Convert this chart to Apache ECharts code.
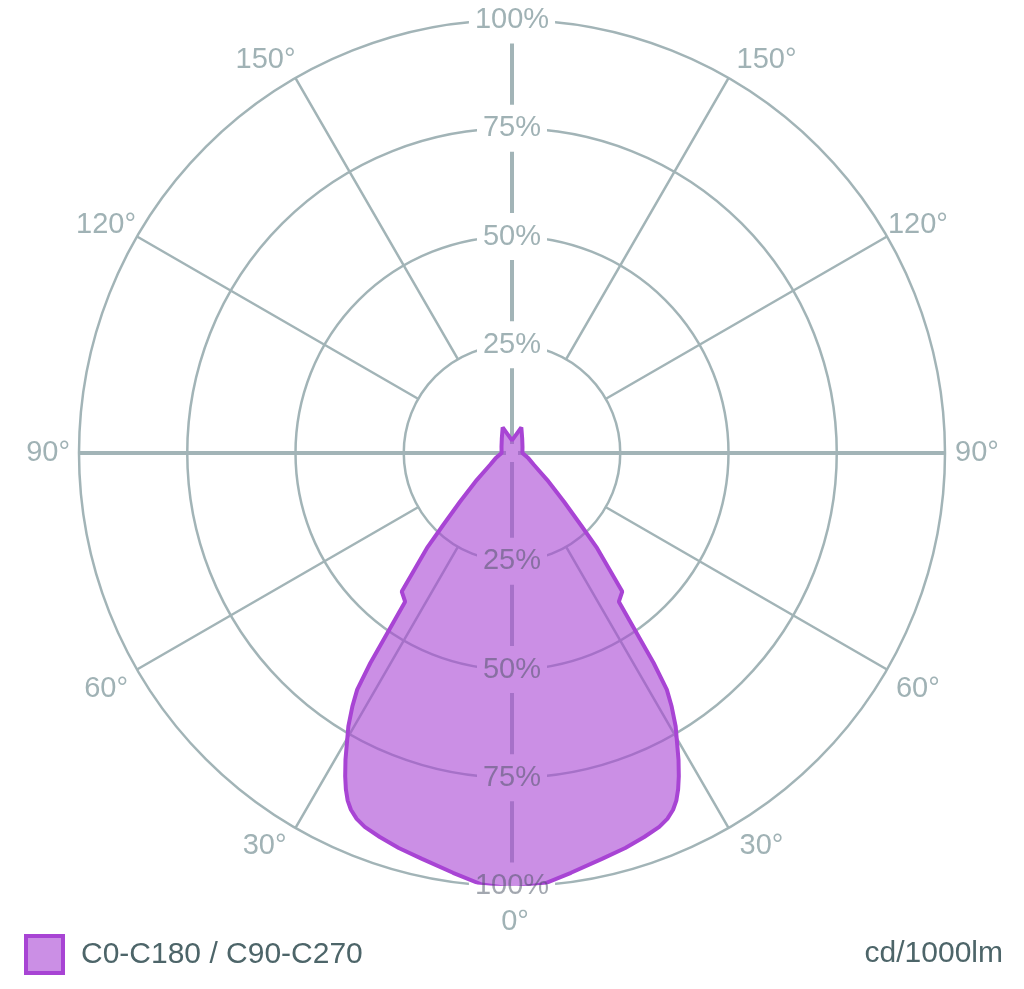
<!DOCTYPE html>
<html>
<head>
<meta charset="utf-8">
<title>Light distribution</title>
<style>
  html, body { margin: 0; padding: 0; background: #fff; }
  #chart { width: 1024px; height: 989px; }
</style>
<script src="https://cdn.jsdelivr.net/npm/echarts@6/dist/echarts.min.js"></script>
</head>
<body>
<div id="chart"></div>
<script>
// angles in degrees: 0 = down, 90 = left, 180 = up, 270 = right
var angles = [
    0, 4, 8, 12.5, 16, 19, 21.5, 23, 24.3, 25.3, 26.3, 27.3, 28.5, 30.9, 32.2,
    33.2, 34, 35.7, 38.5, 41.8, 43.7, 46.9, 52.6, 61.4, 72, 90, 120, 145, 160, 180,
    200, 215, 240, 270, 288, 298.6, 307.4, 313.1, 316.3, 318.2, 321.5, 324.3, 326,
    326.8, 327.8, 329.1, 331.5, 332.7, 333.7, 334.7, 335.7, 337, 338.5, 341, 344,
    347.5, 352, 356, 360
];
// relative intensity, % of the maximum
var intensity = [
    100.6, 99.9, 97.9, 96.0, 94.9, 93.8, 92.8, 91.8, 90.4, 88.8, 86.6, 84.0, 80.6, 73.6, 69.2,
    65.3, 58.5, 42.3, 40.9, 29.5, 23.0, 16.4, 10.2, 5.8, 4.0, 2.4, 2.8, 4.1, 6.3, 2.9,
    6.3, 4.1, 2.8, 2.4, 4.0, 5.8, 10.2, 16.4, 23.0, 29.5, 40.9, 42.3, 58.5,
    65.3, 69.2, 73.6, 80.6, 84.0, 86.6, 88.8, 90.4, 91.8, 92.8, 93.8, 94.9,
    96.0, 97.9, 99.9, 100.6
];
var seriesName = 'C0-C180 / C90-C270';
var unitLabel = 'cd/1000lm';

var gridColor = '#a2b4b7';
var labelColor = '#a0b2b5';
var textColor = '#4d6569';
var curveColor = '#a844d4';
var fontFamily = '"Liberation Sans", Arial, sans-serif';

var chart = echarts.init(document.getElementById('chart'));

var data = angles.map(function (a, i) {
    return [intensity[i], a];
});

// label nudges for the angle labels (left side / right side)
function angleRich(pad, lh) {
    return { padding: pad, lineHeight: lh || 30, fontSize: 29, color: labelColor, fontFamily: fontFamily };
}
var angleRichStyles = {
    l150: angleRich([0, 0, 6, 0]),
    l120: angleRich([0, 1, 0, 0], 24),
    l90: angleRich([0, 9, 0, 0]),
    l60: angleRich([0, 9, 0, 0], 39),
    l30: angleRich([0, 9, 0, 0], 36),
    r150: angleRich([0, 0, 6, 8]),
    r120: angleRich([0, 0, 0, 1], 24),
    r90: angleRich([0, 0, 0, 10]),
    r60: angleRich([0, 0, 0, 9], 39),
    r30: angleRich([0, 0, 0, 11], 36),
    b0: angleRich([0, 0, 0, 6], 72)
};

// radius axis drawn along one direction, labels sit on the line
function radiusLabelAxis(polarIndex, opts) {
    return {
        polarIndex: polarIndex,
        type: 'value',
        min: 0,
        max: 100,
        interval: 25,
        z: opts.z,
        axisLine: { show: opts.line, lineStyle: { color: gridColor, width: 4 } },
        axisTick: { show: false },
        splitLine: { show: false },
        axisLabel: {
            margin: 0,
            align: 'center',
            verticalAlign: 'middle',
            color: opts.color,
            fontSize: 29,
            fontFamily: fontFamily,
            backgroundColor: opts.bg,
            padding: [9, 6],
            formatter: function (v) {
                return v === 0 ? '' : v + '%';
            }
        }
    };
}

var option = {
    animation: false,
    backgroundColor: '#fff',
    textStyle: { fontFamily: fontFamily },
    title: {
        text: unitLabel,
        right: 21,
        top: 939,
        padding: 0,
        textStyle: { fontSize: 30, fontWeight: 'normal', color: textColor, fontFamily: fontFamily }
    },
    legend: {
        left: 24,
        top: 934,
        padding: 0,
        icon: 'rect',
        itemWidth: 37,
        itemHeight: 37,
        itemStyle: { color: 'rgba(168,68,212,0.6)', borderColor: curveColor, borderWidth: 4 },
        textStyle: { fontSize: 30, color: textColor, fontFamily: fontFamily, padding: [0, 0, 0, 13] },
        data: [seriesName]
    },
    polar: [
        { center: [512, 453], radius: [108, 433] },
        { center: [512, 453], radius: [0, 433] },
        { center: [512, 453], radius: [0, 433] },
        { center: [512, 453], radius: [0, 433] },
        { center: [512, 453], radius: [0, 433] }
    ],
    angleAxis: [
        {
            polarIndex: 0,
            type: 'value',
            min: 0,
            max: 360,
            interval: 30,
            startAngle: 270,
            clockwise: true,
            axisLine: { show: false },
            axisTick: { show: false },
            splitLine: { show: true, lineStyle: { color: gridColor, width: 2.5 } },
            axisLabel: {
                margin: 0,
                color: labelColor,
                fontSize: 29,
                fontFamily: fontFamily,
                formatter: function (v) {
                    if (v === 180 || v === 360) return '';
                    if (v === 0) return '{b0|0°}';
                    var d = v > 180 ? 360 - v : v;
                    return '{' + (v > 180 ? 'r' : 'l') + d + '|' + d + '°}';
                },
                rich: angleRichStyles
            }
        },
        {
            polarIndex: 1,
            type: 'value',
            min: 0,
            max: 360,
            interval: 90,
            startAngle: 270,
            clockwise: true,
            axisLine: { show: false },
            axisTick: { show: false },
            axisLabel: { show: false },
            splitLine: { show: true, lineStyle: { color: gridColor, width: 4 } }
        },
        { polarIndex: 2, type: 'value', min: 0, max: 360, startAngle: 90, show: false },
        { polarIndex: 3, type: 'value', min: 0, max: 360, startAngle: 270, show: false },
        { polarIndex: 4, type: 'value', min: 0, max: 360, startAngle: 270, show: false }
    ],
    radiusAxis: [
        { polarIndex: 0, type: 'value', min: 0, max: 100, show: false },
        {
            polarIndex: 1,
            type: 'value',
            min: 0,
            max: 100,
            interval: 25,
            axisLine: { show: false },
            axisTick: { show: false },
            axisLabel: { show: false },
            splitLine: { show: true, lineStyle: { color: gridColor, width: 2.5 } }
        },
        // upward labels
        radiusLabelAxis(2, { z: 1, line: true, color: labelColor, bg: '#fff' }),
        // downward: line + gaps under the curve, text drawn above it
        radiusLabelAxis(3, { z: 1, line: true, color: 'rgba(0,0,0,0)', bg: '#fff' }),
        radiusLabelAxis(4, { z: 3, line: false, color: 'rgba(70,80,95,0.5)', bg: 'transparent' })
    ],
    series: [
        {
            name: seriesName,
            type: 'line',
            coordinateSystem: 'polar',
            polarIndex: 1,
            data: data,
            symbol: 'none',
            clip: false,
            z: 2,
            lineStyle: { color: curveColor, width: 4 },
            itemStyle: { color: curveColor },
            areaStyle: { color: curveColor, opacity: 0.6 }
        }
    ]
};

chart.setOption(option);
</script>
</body>
</html>
